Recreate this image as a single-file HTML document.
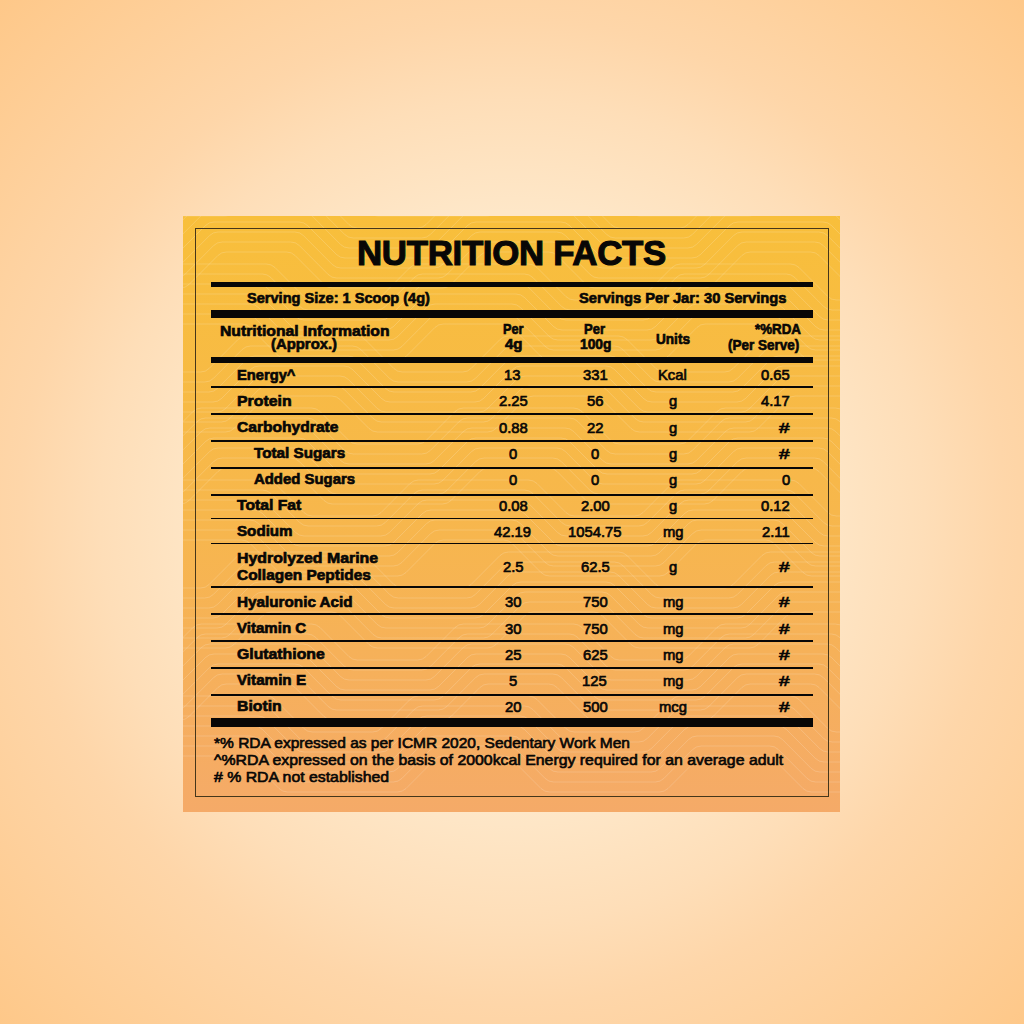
<!DOCTYPE html>
<html><head><meta charset="utf-8"><style>
html,body{margin:0;padding:0}
body{width:1024px;height:1024px;position:relative;overflow:hidden;
background:radial-gradient(circle 724px at 50% 50%, rgb(254,240,215) 0px, rgb(254,231,200) 300px, rgb(254,222,184) 412px, rgb(254,214,169) 492px, rgb(254,200,137) 724px);
font-family:"Liberation Sans",sans-serif;color:#080706}
.panel{position:absolute;left:183px;top:216px;width:657px;height:596px;
background:linear-gradient(180deg,#f8bf3b 0%,#f7b74c 50%,#f5aa68 100%);overflow:hidden}
.border{position:absolute;left:194.8px;top:227.6px;width:632px;height:567.4px;border:1.4px solid #45361a}
.t{position:absolute;white-space:pre;line-height:1;transform-origin:0 0;font-weight:bold}
.ln{position:absolute;background:#080706}
svg.pat{position:absolute;left:0;top:0}
.h{-webkit-text-stroke:1.1px #080706}
.b{-webkit-text-stroke:0.65px #080706}
.n{-webkit-text-stroke:0.65px #080706}
.f{-webkit-text-stroke:0.6px #080706}

</style></head><body>
<div class="panel"><svg class="pat" width="657" height="596"><g fill="none" stroke="#fff" stroke-width="1" stroke-opacity="0.17"><path d="M-60.0,-60.0 L17.6,-60.0 Q22.6,-60.0 26.1,-63.5 L55.0,-92.5 Q58.6,-96.0 63.6,-96.0 L173.4,-96.0 Q178.4,-96.0 182.0,-92.5 L210.9,-63.5 Q214.4,-60.0 219.4,-60.0 L279.6,-60.0 Q284.6,-60.0 288.1,-63.5 L317.0,-92.5 Q320.6,-96.0 325.6,-96.0 L435.4,-96.0 Q440.4,-96.0 444.0,-92.5 L472.9,-63.5 Q476.4,-60.0 481.4,-60.0 L541.6,-60.0 Q546.6,-60.0 550.1,-63.5 L579.0,-92.5 Q582.6,-96.0 587.6,-96.0 L697.4,-96.0 Q702.4,-96.0 706.0,-92.5 L734.9,-63.5 Q738.4,-60.0 743.4,-60.0 L803.6,-60.0 Q808.6,-60.0 812.1,-63.5 L841.0,-92.5 Q844.6,-96.0 849.6,-96.0 L959.4,-96.0 Q964.4,-96.0 968.0,-92.5 L996.9,-63.5 Q1000.4,-60.0 1005.4,-60.0 L1083.0,-60.0"/><path d="M-60.0,-50.0 L21.7,-50.0 Q26.7,-50.0 30.3,-53.5 L59.2,-82.5 Q62.7,-86.0 67.7,-86.0 L169.3,-86.0 Q174.3,-86.0 177.8,-82.5 L206.7,-53.5 Q210.3,-50.0 215.3,-50.0 L283.7,-50.0 Q288.7,-50.0 292.3,-53.5 L321.2,-82.5 Q324.7,-86.0 329.7,-86.0 L431.3,-86.0 Q436.3,-86.0 439.8,-82.5 L468.7,-53.5 Q472.3,-50.0 477.3,-50.0 L545.7,-50.0 Q550.7,-50.0 554.3,-53.5 L583.2,-82.5 Q586.7,-86.0 591.7,-86.0 L693.3,-86.0 Q698.3,-86.0 701.8,-82.5 L730.7,-53.5 Q734.3,-50.0 739.3,-50.0 L807.7,-50.0 Q812.7,-50.0 816.3,-53.5 L845.2,-82.5 Q848.7,-86.0 853.7,-86.0 L955.3,-86.0 Q960.3,-86.0 963.8,-82.5 L992.7,-53.5 Q996.3,-50.0 1001.3,-50.0 L1083.0,-50.0"/><path d="M-60.0,-40.0 L25.9,-40.0 Q30.9,-40.0 34.4,-43.5 L63.3,-72.5 Q66.9,-76.0 71.9,-76.0 L165.1,-76.0 Q170.1,-76.0 173.7,-72.5 L202.6,-43.5 Q206.1,-40.0 211.1,-40.0 L287.9,-40.0 Q292.9,-40.0 296.4,-43.5 L325.3,-72.5 Q328.9,-76.0 333.9,-76.0 L427.1,-76.0 Q432.1,-76.0 435.7,-72.5 L464.6,-43.5 Q468.1,-40.0 473.1,-40.0 L549.9,-40.0 Q554.9,-40.0 558.4,-43.5 L587.3,-72.5 Q590.9,-76.0 595.9,-76.0 L689.1,-76.0 Q694.1,-76.0 697.7,-72.5 L726.6,-43.5 Q730.1,-40.0 735.1,-40.0 L811.9,-40.0 Q816.9,-40.0 820.4,-43.5 L849.3,-72.5 Q852.9,-76.0 857.9,-76.0 L951.1,-76.0 Q956.1,-76.0 959.7,-72.5 L988.6,-43.5 Q992.1,-40.0 997.1,-40.0 L1083.0,-40.0"/><path d="M-60.0,-30.0 L30.0,-30.0 Q35.0,-30.0 38.5,-33.5 L67.5,-62.5 Q71.0,-66.0 76.0,-66.0 L161.0,-66.0 Q166.0,-66.0 169.5,-62.5 L198.5,-33.5 Q202.0,-30.0 207.0,-30.0 L292.0,-30.0 Q297.0,-30.0 300.5,-33.5 L329.5,-62.5 Q333.0,-66.0 338.0,-66.0 L423.0,-66.0 Q428.0,-66.0 431.5,-62.5 L460.5,-33.5 Q464.0,-30.0 469.0,-30.0 L554.0,-30.0 Q559.0,-30.0 562.5,-33.5 L591.5,-62.5 Q595.0,-66.0 600.0,-66.0 L685.0,-66.0 Q690.0,-66.0 693.5,-62.5 L722.5,-33.5 Q726.0,-30.0 731.0,-30.0 L816.0,-30.0 Q821.0,-30.0 824.5,-33.5 L853.5,-62.5 Q857.0,-66.0 862.0,-66.0 L947.0,-66.0 Q952.0,-66.0 955.5,-62.5 L984.5,-33.5 Q988.0,-30.0 993.0,-30.0 L1083.0,-30.0"/><path d="M-60.0,-20.0 L34.1,-20.0 Q39.1,-20.0 42.7,-23.5 L71.6,-52.5 Q75.1,-56.0 80.1,-56.0 L156.9,-56.0 Q161.9,-56.0 165.4,-52.5 L194.3,-23.5 Q197.9,-20.0 202.9,-20.0 L296.1,-20.0 Q301.1,-20.0 304.7,-23.5 L333.6,-52.5 Q337.1,-56.0 342.1,-56.0 L418.9,-56.0 Q423.9,-56.0 427.4,-52.5 L456.3,-23.5 Q459.9,-20.0 464.9,-20.0 L558.1,-20.0 Q563.1,-20.0 566.7,-23.5 L595.6,-52.5 Q599.1,-56.0 604.1,-56.0 L680.9,-56.0 Q685.9,-56.0 689.4,-52.5 L718.3,-23.5 Q721.9,-20.0 726.9,-20.0 L820.1,-20.0 Q825.1,-20.0 828.7,-23.5 L857.6,-52.5 Q861.1,-56.0 866.1,-56.0 L942.9,-56.0 Q947.9,-56.0 951.4,-52.5 L980.3,-23.5 Q983.9,-20.0 988.9,-20.0 L1083.0,-20.0"/><path d="M-60.0,-10.0 L38.3,-10.0 Q43.3,-10.0 46.8,-13.5 L75.7,-42.5 Q79.3,-46.0 84.3,-46.0 L152.7,-46.0 Q157.7,-46.0 161.3,-42.5 L190.2,-13.5 Q193.7,-10.0 198.7,-10.0 L300.3,-10.0 Q305.3,-10.0 308.8,-13.5 L337.7,-42.5 Q341.3,-46.0 346.3,-46.0 L414.7,-46.0 Q419.7,-46.0 423.3,-42.5 L452.2,-13.5 Q455.7,-10.0 460.7,-10.0 L562.3,-10.0 Q567.3,-10.0 570.8,-13.5 L599.7,-42.5 Q603.3,-46.0 608.3,-46.0 L676.7,-46.0 Q681.7,-46.0 685.3,-42.5 L714.2,-13.5 Q717.7,-10.0 722.7,-10.0 L824.3,-10.0 Q829.3,-10.0 832.8,-13.5 L861.7,-42.5 Q865.3,-46.0 870.3,-46.0 L938.7,-46.0 Q943.7,-46.0 947.3,-42.5 L976.2,-13.5 Q979.7,-10.0 984.7,-10.0 L1083.0,-10.0"/><path d="M-60.0,0.0 L42.4,0.0 Q47.4,0.0 51.0,-3.5 L79.9,-32.5 Q83.4,-36.0 88.4,-36.0 L148.6,-36.0 Q153.6,-36.0 157.1,-32.5 L186.0,-3.5 Q189.6,0.0 194.6,0.0 L304.4,0.0 Q309.4,0.0 313.0,-3.5 L341.9,-32.5 Q345.4,-36.0 350.4,-36.0 L410.6,-36.0 Q415.6,-36.0 419.1,-32.5 L448.0,-3.5 Q451.6,0.0 456.6,0.0 L566.4,0.0 Q571.4,0.0 575.0,-3.5 L603.9,-32.5 Q607.4,-36.0 612.4,-36.0 L672.6,-36.0 Q677.6,-36.0 681.1,-32.5 L710.0,-3.5 Q713.6,0.0 718.6,0.0 L828.4,0.0 Q833.4,0.0 837.0,-3.5 L865.9,-32.5 Q869.4,-36.0 874.4,-36.0 L934.6,-36.0 Q939.6,-36.0 943.1,-32.5 L972.0,-3.5 Q975.6,0.0 980.6,0.0 L1083.0,0.0"/><path d="M-105.0,12.0 L-27.4,12.0 Q-22.4,12.0 -18.9,8.5 L10.0,-20.5 Q13.6,-24.0 18.6,-24.0 L128.4,-24.0 Q133.4,-24.0 137.0,-20.5 L165.9,8.5 Q169.4,12.0 174.4,12.0 L234.6,12.0 Q239.6,12.0 243.1,8.5 L272.0,-20.5 Q275.6,-24.0 280.6,-24.0 L390.4,-24.0 Q395.4,-24.0 399.0,-20.5 L427.9,8.5 Q431.4,12.0 436.4,12.0 L496.6,12.0 Q501.6,12.0 505.1,8.5 L534.0,-20.5 Q537.6,-24.0 542.6,-24.0 L652.4,-24.0 Q657.4,-24.0 661.0,-20.5 L689.9,8.5 Q693.4,12.0 698.4,12.0 L758.6,12.0 Q763.6,12.0 767.1,8.5 L796.0,-20.5 Q799.6,-24.0 804.6,-24.0 L914.4,-24.0 Q919.4,-24.0 923.0,-20.5 L951.9,8.5 Q955.4,12.0 960.4,12.0 L1038.0,12.0"/><path d="M-105.0,22.0 L-23.3,22.0 Q-18.3,22.0 -14.7,18.5 L14.2,-10.5 Q17.7,-14.0 22.7,-14.0 L124.3,-14.0 Q129.3,-14.0 132.8,-10.5 L161.7,18.5 Q165.3,22.0 170.3,22.0 L238.7,22.0 Q243.7,22.0 247.3,18.5 L276.2,-10.5 Q279.7,-14.0 284.7,-14.0 L386.3,-14.0 Q391.3,-14.0 394.8,-10.5 L423.7,18.5 Q427.3,22.0 432.3,22.0 L500.7,22.0 Q505.7,22.0 509.3,18.5 L538.2,-10.5 Q541.7,-14.0 546.7,-14.0 L648.3,-14.0 Q653.3,-14.0 656.8,-10.5 L685.7,18.5 Q689.3,22.0 694.3,22.0 L762.7,22.0 Q767.7,22.0 771.3,18.5 L800.2,-10.5 Q803.7,-14.0 808.7,-14.0 L910.3,-14.0 Q915.3,-14.0 918.8,-10.5 L947.7,18.5 Q951.3,22.0 956.3,22.0 L1038.0,22.0"/><path d="M-105.0,32.0 L-19.1,32.0 Q-14.1,32.0 -10.6,28.5 L18.3,-0.5 Q21.9,-4.0 26.9,-4.0 L120.1,-4.0 Q125.1,-4.0 128.7,-0.5 L157.6,28.5 Q161.1,32.0 166.1,32.0 L242.9,32.0 Q247.9,32.0 251.4,28.5 L280.3,-0.5 Q283.9,-4.0 288.9,-4.0 L382.1,-4.0 Q387.1,-4.0 390.7,-0.5 L419.6,28.5 Q423.1,32.0 428.1,32.0 L504.9,32.0 Q509.9,32.0 513.4,28.5 L542.3,-0.5 Q545.9,-4.0 550.9,-4.0 L644.1,-4.0 Q649.1,-4.0 652.7,-0.5 L681.6,28.5 Q685.1,32.0 690.1,32.0 L766.9,32.0 Q771.9,32.0 775.4,28.5 L804.3,-0.5 Q807.9,-4.0 812.9,-4.0 L906.1,-4.0 Q911.1,-4.0 914.7,-0.5 L943.6,28.5 Q947.1,32.0 952.1,32.0 L1038.0,32.0"/><path d="M-105.0,42.0 L-15.0,42.0 Q-10.0,42.0 -6.5,38.5 L22.5,9.5 Q26.0,6.0 31.0,6.0 L116.0,6.0 Q121.0,6.0 124.5,9.5 L153.5,38.5 Q157.0,42.0 162.0,42.0 L247.0,42.0 Q252.0,42.0 255.5,38.5 L284.5,9.5 Q288.0,6.0 293.0,6.0 L378.0,6.0 Q383.0,6.0 386.5,9.5 L415.5,38.5 Q419.0,42.0 424.0,42.0 L509.0,42.0 Q514.0,42.0 517.5,38.5 L546.5,9.5 Q550.0,6.0 555.0,6.0 L640.0,6.0 Q645.0,6.0 648.5,9.5 L677.5,38.5 Q681.0,42.0 686.0,42.0 L771.0,42.0 Q776.0,42.0 779.5,38.5 L808.5,9.5 Q812.0,6.0 817.0,6.0 L902.0,6.0 Q907.0,6.0 910.5,9.5 L939.5,38.5 Q943.0,42.0 948.0,42.0 L1038.0,42.0"/><path d="M-105.0,52.0 L-10.9,52.0 Q-5.9,52.0 -2.3,48.5 L26.6,19.5 Q30.1,16.0 35.1,16.0 L111.9,16.0 Q116.9,16.0 120.4,19.5 L149.3,48.5 Q152.9,52.0 157.9,52.0 L251.1,52.0 Q256.1,52.0 259.7,48.5 L288.6,19.5 Q292.1,16.0 297.1,16.0 L373.9,16.0 Q378.9,16.0 382.4,19.5 L411.3,48.5 Q414.9,52.0 419.9,52.0 L513.1,52.0 Q518.1,52.0 521.7,48.5 L550.6,19.5 Q554.1,16.0 559.1,16.0 L635.9,16.0 Q640.9,16.0 644.4,19.5 L673.3,48.5 Q676.9,52.0 681.9,52.0 L775.1,52.0 Q780.1,52.0 783.7,48.5 L812.6,19.5 Q816.1,16.0 821.1,16.0 L897.9,16.0 Q902.9,16.0 906.4,19.5 L935.3,48.5 Q938.9,52.0 943.9,52.0 L1038.0,52.0"/><path d="M-105.0,62.0 L-6.7,62.0 Q-1.7,62.0 1.8,58.5 L30.7,29.5 Q34.3,26.0 39.3,26.0 L107.7,26.0 Q112.7,26.0 116.3,29.5 L145.2,58.5 Q148.7,62.0 153.7,62.0 L255.3,62.0 Q260.3,62.0 263.8,58.5 L292.7,29.5 Q296.3,26.0 301.3,26.0 L369.7,26.0 Q374.7,26.0 378.3,29.5 L407.2,58.5 Q410.7,62.0 415.7,62.0 L517.3,62.0 Q522.3,62.0 525.8,58.5 L554.7,29.5 Q558.3,26.0 563.3,26.0 L631.7,26.0 Q636.7,26.0 640.3,29.5 L669.2,58.5 Q672.7,62.0 677.7,62.0 L779.3,62.0 Q784.3,62.0 787.8,58.5 L816.7,29.5 Q820.3,26.0 825.3,26.0 L893.7,26.0 Q898.7,26.0 902.3,29.5 L931.2,58.5 Q934.7,62.0 939.7,62.0 L1038.0,62.0"/><path d="M-105.0,72.0 L-2.6,72.0 Q2.4,72.0 6.0,68.5 L34.9,39.5 Q38.4,36.0 43.4,36.0 L103.6,36.0 Q108.6,36.0 112.1,39.5 L141.0,68.5 Q144.6,72.0 149.6,72.0 L259.4,72.0 Q264.4,72.0 268.0,68.5 L296.9,39.5 Q300.4,36.0 305.4,36.0 L365.6,36.0 Q370.6,36.0 374.1,39.5 L403.0,68.5 Q406.6,72.0 411.6,72.0 L521.4,72.0 Q526.4,72.0 530.0,68.5 L558.9,39.5 Q562.4,36.0 567.4,36.0 L627.6,36.0 Q632.6,36.0 636.1,39.5 L665.0,68.5 Q668.6,72.0 673.6,72.0 L783.4,72.0 Q788.4,72.0 792.0,68.5 L820.9,39.5 Q824.4,36.0 829.4,36.0 L889.6,36.0 Q894.6,36.0 898.1,39.5 L927.0,68.5 Q930.6,72.0 935.6,72.0 L1038.0,72.0"/><path d="M-150.0,84.0 L-72.4,84.0 Q-67.4,84.0 -63.9,80.5 L-35.0,51.5 Q-31.4,48.0 -26.4,48.0 L83.4,48.0 Q88.4,48.0 92.0,51.5 L120.9,80.5 Q124.4,84.0 129.4,84.0 L189.6,84.0 Q194.6,84.0 198.1,80.5 L227.0,51.5 Q230.6,48.0 235.6,48.0 L345.4,48.0 Q350.4,48.0 354.0,51.5 L382.9,80.5 Q386.4,84.0 391.4,84.0 L451.6,84.0 Q456.6,84.0 460.1,80.5 L489.0,51.5 Q492.6,48.0 497.6,48.0 L607.4,48.0 Q612.4,48.0 616.0,51.5 L644.9,80.5 Q648.4,84.0 653.4,84.0 L713.6,84.0 Q718.6,84.0 722.1,80.5 L751.0,51.5 Q754.6,48.0 759.6,48.0 L869.4,48.0 Q874.4,48.0 878.0,51.5 L906.9,80.5 Q910.4,84.0 915.4,84.0 L993.0,84.0"/><path d="M-150.0,94.0 L-68.3,94.0 Q-63.3,94.0 -59.7,90.5 L-30.8,61.5 Q-27.3,58.0 -22.3,58.0 L79.3,58.0 Q84.3,58.0 87.8,61.5 L116.7,90.5 Q120.3,94.0 125.3,94.0 L193.7,94.0 Q198.7,94.0 202.3,90.5 L231.2,61.5 Q234.7,58.0 239.7,58.0 L341.3,58.0 Q346.3,58.0 349.8,61.5 L378.7,90.5 Q382.3,94.0 387.3,94.0 L455.7,94.0 Q460.7,94.0 464.3,90.5 L493.2,61.5 Q496.7,58.0 501.7,58.0 L603.3,58.0 Q608.3,58.0 611.8,61.5 L640.7,90.5 Q644.3,94.0 649.3,94.0 L717.7,94.0 Q722.7,94.0 726.3,90.5 L755.2,61.5 Q758.7,58.0 763.7,58.0 L865.3,58.0 Q870.3,58.0 873.8,61.5 L902.7,90.5 Q906.3,94.0 911.3,94.0 L993.0,94.0"/><path d="M-150.0,104.0 L-64.1,104.0 Q-59.1,104.0 -55.6,100.5 L-26.7,71.5 Q-23.1,68.0 -18.1,68.0 L75.1,68.0 Q80.1,68.0 83.7,71.5 L112.6,100.5 Q116.1,104.0 121.1,104.0 L197.9,104.0 Q202.9,104.0 206.4,100.5 L235.3,71.5 Q238.9,68.0 243.9,68.0 L337.1,68.0 Q342.1,68.0 345.7,71.5 L374.6,100.5 Q378.1,104.0 383.1,104.0 L459.9,104.0 Q464.9,104.0 468.4,100.5 L497.3,71.5 Q500.9,68.0 505.9,68.0 L599.1,68.0 Q604.1,68.0 607.7,71.5 L636.6,100.5 Q640.1,104.0 645.1,104.0 L721.9,104.0 Q726.9,104.0 730.4,100.5 L759.3,71.5 Q762.9,68.0 767.9,68.0 L861.1,68.0 Q866.1,68.0 869.7,71.5 L898.6,100.5 Q902.1,104.0 907.1,104.0 L993.0,104.0"/><path d="M-150.0,114.0 L-60.0,114.0 Q-55.0,114.0 -51.5,110.5 L-22.5,81.5 Q-19.0,78.0 -14.0,78.0 L71.0,78.0 Q76.0,78.0 79.5,81.5 L108.5,110.5 Q112.0,114.0 117.0,114.0 L202.0,114.0 Q207.0,114.0 210.5,110.5 L239.5,81.5 Q243.0,78.0 248.0,78.0 L333.0,78.0 Q338.0,78.0 341.5,81.5 L370.5,110.5 Q374.0,114.0 379.0,114.0 L464.0,114.0 Q469.0,114.0 472.5,110.5 L501.5,81.5 Q505.0,78.0 510.0,78.0 L595.0,78.0 Q600.0,78.0 603.5,81.5 L632.5,110.5 Q636.0,114.0 641.0,114.0 L726.0,114.0 Q731.0,114.0 734.5,110.5 L763.5,81.5 Q767.0,78.0 772.0,78.0 L857.0,78.0 Q862.0,78.0 865.5,81.5 L894.5,110.5 Q898.0,114.0 903.0,114.0 L993.0,114.0"/><path d="M-150.0,124.0 L-55.9,124.0 Q-50.9,124.0 -47.3,120.5 L-18.4,91.5 Q-14.9,88.0 -9.9,88.0 L66.9,88.0 Q71.9,88.0 75.4,91.5 L104.3,120.5 Q107.9,124.0 112.9,124.0 L206.1,124.0 Q211.1,124.0 214.7,120.5 L243.6,91.5 Q247.1,88.0 252.1,88.0 L328.9,88.0 Q333.9,88.0 337.4,91.5 L366.3,120.5 Q369.9,124.0 374.9,124.0 L468.1,124.0 Q473.1,124.0 476.7,120.5 L505.6,91.5 Q509.1,88.0 514.1,88.0 L590.9,88.0 Q595.9,88.0 599.4,91.5 L628.3,120.5 Q631.9,124.0 636.9,124.0 L730.1,124.0 Q735.1,124.0 738.7,120.5 L767.6,91.5 Q771.1,88.0 776.1,88.0 L852.9,88.0 Q857.9,88.0 861.4,91.5 L890.3,120.5 Q893.9,124.0 898.9,124.0 L993.0,124.0"/><path d="M-150.0,134.0 L-51.7,134.0 Q-46.7,134.0 -43.2,130.5 L-14.3,101.5 Q-10.7,98.0 -5.7,98.0 L62.7,98.0 Q67.7,98.0 71.3,101.5 L100.2,130.5 Q103.7,134.0 108.7,134.0 L210.3,134.0 Q215.3,134.0 218.8,130.5 L247.7,101.5 Q251.3,98.0 256.3,98.0 L324.7,98.0 Q329.7,98.0 333.3,101.5 L362.2,130.5 Q365.7,134.0 370.7,134.0 L472.3,134.0 Q477.3,134.0 480.8,130.5 L509.7,101.5 Q513.3,98.0 518.3,98.0 L586.7,98.0 Q591.7,98.0 595.3,101.5 L624.2,130.5 Q627.7,134.0 632.7,134.0 L734.3,134.0 Q739.3,134.0 742.8,130.5 L771.7,101.5 Q775.3,98.0 780.3,98.0 L848.7,98.0 Q853.7,98.0 857.3,101.5 L886.2,130.5 Q889.7,134.0 894.7,134.0 L993.0,134.0"/><path d="M-150.0,144.0 L-47.6,144.0 Q-42.6,144.0 -39.0,140.5 L-10.1,111.5 Q-6.6,108.0 -1.6,108.0 L58.6,108.0 Q63.6,108.0 67.1,111.5 L96.0,140.5 Q99.6,144.0 104.6,144.0 L214.4,144.0 Q219.4,144.0 223.0,140.5 L251.9,111.5 Q255.4,108.0 260.4,108.0 L320.6,108.0 Q325.6,108.0 329.1,111.5 L358.0,140.5 Q361.6,144.0 366.6,144.0 L476.4,144.0 Q481.4,144.0 485.0,140.5 L513.9,111.5 Q517.4,108.0 522.4,108.0 L582.6,108.0 Q587.6,108.0 591.1,111.5 L620.0,140.5 Q623.6,144.0 628.6,144.0 L738.4,144.0 Q743.4,144.0 747.0,140.5 L775.9,111.5 Q779.4,108.0 784.4,108.0 L844.6,108.0 Q849.6,108.0 853.1,111.5 L882.0,140.5 Q885.6,144.0 890.6,144.0 L993.0,144.0"/><path d="M-60.0,156.0 L17.6,156.0 Q22.6,156.0 26.1,152.5 L55.0,123.5 Q58.6,120.0 63.6,120.0 L173.4,120.0 Q178.4,120.0 182.0,123.5 L210.9,152.5 Q214.4,156.0 219.4,156.0 L279.6,156.0 Q284.6,156.0 288.1,152.5 L317.0,123.5 Q320.6,120.0 325.6,120.0 L435.4,120.0 Q440.4,120.0 444.0,123.5 L472.9,152.5 Q476.4,156.0 481.4,156.0 L541.6,156.0 Q546.6,156.0 550.1,152.5 L579.0,123.5 Q582.6,120.0 587.6,120.0 L697.4,120.0 Q702.4,120.0 706.0,123.5 L734.9,152.5 Q738.4,156.0 743.4,156.0 L803.6,156.0 Q808.6,156.0 812.1,152.5 L841.0,123.5 Q844.6,120.0 849.6,120.0 L959.4,120.0 Q964.4,120.0 968.0,123.5 L996.9,152.5 Q1000.4,156.0 1005.4,156.0 L1083.0,156.0"/><path d="M-60.0,166.0 L21.7,166.0 Q26.7,166.0 30.3,162.5 L59.2,133.5 Q62.7,130.0 67.7,130.0 L169.3,130.0 Q174.3,130.0 177.8,133.5 L206.7,162.5 Q210.3,166.0 215.3,166.0 L283.7,166.0 Q288.7,166.0 292.3,162.5 L321.2,133.5 Q324.7,130.0 329.7,130.0 L431.3,130.0 Q436.3,130.0 439.8,133.5 L468.7,162.5 Q472.3,166.0 477.3,166.0 L545.7,166.0 Q550.7,166.0 554.3,162.5 L583.2,133.5 Q586.7,130.0 591.7,130.0 L693.3,130.0 Q698.3,130.0 701.8,133.5 L730.7,162.5 Q734.3,166.0 739.3,166.0 L807.7,166.0 Q812.7,166.0 816.3,162.5 L845.2,133.5 Q848.7,130.0 853.7,130.0 L955.3,130.0 Q960.3,130.0 963.8,133.5 L992.7,162.5 Q996.3,166.0 1001.3,166.0 L1083.0,166.0"/><path d="M-60.0,176.0 L25.9,176.0 Q30.9,176.0 34.4,172.5 L63.3,143.5 Q66.9,140.0 71.9,140.0 L165.1,140.0 Q170.1,140.0 173.7,143.5 L202.6,172.5 Q206.1,176.0 211.1,176.0 L287.9,176.0 Q292.9,176.0 296.4,172.5 L325.3,143.5 Q328.9,140.0 333.9,140.0 L427.1,140.0 Q432.1,140.0 435.7,143.5 L464.6,172.5 Q468.1,176.0 473.1,176.0 L549.9,176.0 Q554.9,176.0 558.4,172.5 L587.3,143.5 Q590.9,140.0 595.9,140.0 L689.1,140.0 Q694.1,140.0 697.7,143.5 L726.6,172.5 Q730.1,176.0 735.1,176.0 L811.9,176.0 Q816.9,176.0 820.4,172.5 L849.3,143.5 Q852.9,140.0 857.9,140.0 L951.1,140.0 Q956.1,140.0 959.7,143.5 L988.6,172.5 Q992.1,176.0 997.1,176.0 L1083.0,176.0"/><path d="M-60.0,186.0 L30.0,186.0 Q35.0,186.0 38.5,182.5 L67.5,153.5 Q71.0,150.0 76.0,150.0 L161.0,150.0 Q166.0,150.0 169.5,153.5 L198.5,182.5 Q202.0,186.0 207.0,186.0 L292.0,186.0 Q297.0,186.0 300.5,182.5 L329.5,153.5 Q333.0,150.0 338.0,150.0 L423.0,150.0 Q428.0,150.0 431.5,153.5 L460.5,182.5 Q464.0,186.0 469.0,186.0 L554.0,186.0 Q559.0,186.0 562.5,182.5 L591.5,153.5 Q595.0,150.0 600.0,150.0 L685.0,150.0 Q690.0,150.0 693.5,153.5 L722.5,182.5 Q726.0,186.0 731.0,186.0 L816.0,186.0 Q821.0,186.0 824.5,182.5 L853.5,153.5 Q857.0,150.0 862.0,150.0 L947.0,150.0 Q952.0,150.0 955.5,153.5 L984.5,182.5 Q988.0,186.0 993.0,186.0 L1083.0,186.0"/><path d="M-60.0,196.0 L34.1,196.0 Q39.1,196.0 42.7,192.5 L71.6,163.5 Q75.1,160.0 80.1,160.0 L156.9,160.0 Q161.9,160.0 165.4,163.5 L194.3,192.5 Q197.9,196.0 202.9,196.0 L296.1,196.0 Q301.1,196.0 304.7,192.5 L333.6,163.5 Q337.1,160.0 342.1,160.0 L418.9,160.0 Q423.9,160.0 427.4,163.5 L456.3,192.5 Q459.9,196.0 464.9,196.0 L558.1,196.0 Q563.1,196.0 566.7,192.5 L595.6,163.5 Q599.1,160.0 604.1,160.0 L680.9,160.0 Q685.9,160.0 689.4,163.5 L718.3,192.5 Q721.9,196.0 726.9,196.0 L820.1,196.0 Q825.1,196.0 828.7,192.5 L857.6,163.5 Q861.1,160.0 866.1,160.0 L942.9,160.0 Q947.9,160.0 951.4,163.5 L980.3,192.5 Q983.9,196.0 988.9,196.0 L1083.0,196.0"/><path d="M-60.0,206.0 L38.3,206.0 Q43.3,206.0 46.8,202.5 L75.7,173.5 Q79.3,170.0 84.3,170.0 L152.7,170.0 Q157.7,170.0 161.3,173.5 L190.2,202.5 Q193.7,206.0 198.7,206.0 L300.3,206.0 Q305.3,206.0 308.8,202.5 L337.7,173.5 Q341.3,170.0 346.3,170.0 L414.7,170.0 Q419.7,170.0 423.3,173.5 L452.2,202.5 Q455.7,206.0 460.7,206.0 L562.3,206.0 Q567.3,206.0 570.8,202.5 L599.7,173.5 Q603.3,170.0 608.3,170.0 L676.7,170.0 Q681.7,170.0 685.3,173.5 L714.2,202.5 Q717.7,206.0 722.7,206.0 L824.3,206.0 Q829.3,206.0 832.8,202.5 L861.7,173.5 Q865.3,170.0 870.3,170.0 L938.7,170.0 Q943.7,170.0 947.3,173.5 L976.2,202.5 Q979.7,206.0 984.7,206.0 L1083.0,206.0"/><path d="M-60.0,216.0 L42.4,216.0 Q47.4,216.0 51.0,212.5 L79.9,183.5 Q83.4,180.0 88.4,180.0 L148.6,180.0 Q153.6,180.0 157.1,183.5 L186.0,212.5 Q189.6,216.0 194.6,216.0 L304.4,216.0 Q309.4,216.0 313.0,212.5 L341.9,183.5 Q345.4,180.0 350.4,180.0 L410.6,180.0 Q415.6,180.0 419.1,183.5 L448.0,212.5 Q451.6,216.0 456.6,216.0 L566.4,216.0 Q571.4,216.0 575.0,212.5 L603.9,183.5 Q607.4,180.0 612.4,180.0 L672.6,180.0 Q677.6,180.0 681.1,183.5 L710.0,212.5 Q713.6,216.0 718.6,216.0 L828.4,216.0 Q833.4,216.0 837.0,212.5 L865.9,183.5 Q869.4,180.0 874.4,180.0 L934.6,180.0 Q939.6,180.0 943.1,183.5 L972.0,212.5 Q975.6,216.0 980.6,216.0 L1083.0,216.0"/><path d="M-105.0,228.0 L-27.4,228.0 Q-22.4,228.0 -18.9,224.5 L10.0,195.5 Q13.6,192.0 18.6,192.0 L128.4,192.0 Q133.4,192.0 137.0,195.5 L165.9,224.5 Q169.4,228.0 174.4,228.0 L234.6,228.0 Q239.6,228.0 243.1,224.5 L272.0,195.5 Q275.6,192.0 280.6,192.0 L390.4,192.0 Q395.4,192.0 399.0,195.5 L427.9,224.5 Q431.4,228.0 436.4,228.0 L496.6,228.0 Q501.6,228.0 505.1,224.5 L534.0,195.5 Q537.6,192.0 542.6,192.0 L652.4,192.0 Q657.4,192.0 661.0,195.5 L689.9,224.5 Q693.4,228.0 698.4,228.0 L758.6,228.0 Q763.6,228.0 767.1,224.5 L796.0,195.5 Q799.6,192.0 804.6,192.0 L914.4,192.0 Q919.4,192.0 923.0,195.5 L951.9,224.5 Q955.4,228.0 960.4,228.0 L1038.0,228.0"/><path d="M-105.0,238.0 L-23.3,238.0 Q-18.3,238.0 -14.7,234.5 L14.2,205.5 Q17.7,202.0 22.7,202.0 L124.3,202.0 Q129.3,202.0 132.8,205.5 L161.7,234.5 Q165.3,238.0 170.3,238.0 L238.7,238.0 Q243.7,238.0 247.3,234.5 L276.2,205.5 Q279.7,202.0 284.7,202.0 L386.3,202.0 Q391.3,202.0 394.8,205.5 L423.7,234.5 Q427.3,238.0 432.3,238.0 L500.7,238.0 Q505.7,238.0 509.3,234.5 L538.2,205.5 Q541.7,202.0 546.7,202.0 L648.3,202.0 Q653.3,202.0 656.8,205.5 L685.7,234.5 Q689.3,238.0 694.3,238.0 L762.7,238.0 Q767.7,238.0 771.3,234.5 L800.2,205.5 Q803.7,202.0 808.7,202.0 L910.3,202.0 Q915.3,202.0 918.8,205.5 L947.7,234.5 Q951.3,238.0 956.3,238.0 L1038.0,238.0"/><path d="M-105.0,248.0 L-19.1,248.0 Q-14.1,248.0 -10.6,244.5 L18.3,215.5 Q21.9,212.0 26.9,212.0 L120.1,212.0 Q125.1,212.0 128.7,215.5 L157.6,244.5 Q161.1,248.0 166.1,248.0 L242.9,248.0 Q247.9,248.0 251.4,244.5 L280.3,215.5 Q283.9,212.0 288.9,212.0 L382.1,212.0 Q387.1,212.0 390.7,215.5 L419.6,244.5 Q423.1,248.0 428.1,248.0 L504.9,248.0 Q509.9,248.0 513.4,244.5 L542.3,215.5 Q545.9,212.0 550.9,212.0 L644.1,212.0 Q649.1,212.0 652.7,215.5 L681.6,244.5 Q685.1,248.0 690.1,248.0 L766.9,248.0 Q771.9,248.0 775.4,244.5 L804.3,215.5 Q807.9,212.0 812.9,212.0 L906.1,212.0 Q911.1,212.0 914.7,215.5 L943.6,244.5 Q947.1,248.0 952.1,248.0 L1038.0,248.0"/><path d="M-105.0,258.0 L-15.0,258.0 Q-10.0,258.0 -6.5,254.5 L22.5,225.5 Q26.0,222.0 31.0,222.0 L116.0,222.0 Q121.0,222.0 124.5,225.5 L153.5,254.5 Q157.0,258.0 162.0,258.0 L247.0,258.0 Q252.0,258.0 255.5,254.5 L284.5,225.5 Q288.0,222.0 293.0,222.0 L378.0,222.0 Q383.0,222.0 386.5,225.5 L415.5,254.5 Q419.0,258.0 424.0,258.0 L509.0,258.0 Q514.0,258.0 517.5,254.5 L546.5,225.5 Q550.0,222.0 555.0,222.0 L640.0,222.0 Q645.0,222.0 648.5,225.5 L677.5,254.5 Q681.0,258.0 686.0,258.0 L771.0,258.0 Q776.0,258.0 779.5,254.5 L808.5,225.5 Q812.0,222.0 817.0,222.0 L902.0,222.0 Q907.0,222.0 910.5,225.5 L939.5,254.5 Q943.0,258.0 948.0,258.0 L1038.0,258.0"/><path d="M-105.0,268.0 L-10.9,268.0 Q-5.9,268.0 -2.3,264.5 L26.6,235.5 Q30.1,232.0 35.1,232.0 L111.9,232.0 Q116.9,232.0 120.4,235.5 L149.3,264.5 Q152.9,268.0 157.9,268.0 L251.1,268.0 Q256.1,268.0 259.7,264.5 L288.6,235.5 Q292.1,232.0 297.1,232.0 L373.9,232.0 Q378.9,232.0 382.4,235.5 L411.3,264.5 Q414.9,268.0 419.9,268.0 L513.1,268.0 Q518.1,268.0 521.7,264.5 L550.6,235.5 Q554.1,232.0 559.1,232.0 L635.9,232.0 Q640.9,232.0 644.4,235.5 L673.3,264.5 Q676.9,268.0 681.9,268.0 L775.1,268.0 Q780.1,268.0 783.7,264.5 L812.6,235.5 Q816.1,232.0 821.1,232.0 L897.9,232.0 Q902.9,232.0 906.4,235.5 L935.3,264.5 Q938.9,268.0 943.9,268.0 L1038.0,268.0"/><path d="M-105.0,278.0 L-6.7,278.0 Q-1.7,278.0 1.8,274.5 L30.7,245.5 Q34.3,242.0 39.3,242.0 L107.7,242.0 Q112.7,242.0 116.3,245.5 L145.2,274.5 Q148.7,278.0 153.7,278.0 L255.3,278.0 Q260.3,278.0 263.8,274.5 L292.7,245.5 Q296.3,242.0 301.3,242.0 L369.7,242.0 Q374.7,242.0 378.3,245.5 L407.2,274.5 Q410.7,278.0 415.7,278.0 L517.3,278.0 Q522.3,278.0 525.8,274.5 L554.7,245.5 Q558.3,242.0 563.3,242.0 L631.7,242.0 Q636.7,242.0 640.3,245.5 L669.2,274.5 Q672.7,278.0 677.7,278.0 L779.3,278.0 Q784.3,278.0 787.8,274.5 L816.7,245.5 Q820.3,242.0 825.3,242.0 L893.7,242.0 Q898.7,242.0 902.3,245.5 L931.2,274.5 Q934.7,278.0 939.7,278.0 L1038.0,278.0"/><path d="M-105.0,288.0 L-2.6,288.0 Q2.4,288.0 6.0,284.5 L34.9,255.5 Q38.4,252.0 43.4,252.0 L103.6,252.0 Q108.6,252.0 112.1,255.5 L141.0,284.5 Q144.6,288.0 149.6,288.0 L259.4,288.0 Q264.4,288.0 268.0,284.5 L296.9,255.5 Q300.4,252.0 305.4,252.0 L365.6,252.0 Q370.6,252.0 374.1,255.5 L403.0,284.5 Q406.6,288.0 411.6,288.0 L521.4,288.0 Q526.4,288.0 530.0,284.5 L558.9,255.5 Q562.4,252.0 567.4,252.0 L627.6,252.0 Q632.6,252.0 636.1,255.5 L665.0,284.5 Q668.6,288.0 673.6,288.0 L783.4,288.0 Q788.4,288.0 792.0,284.5 L820.9,255.5 Q824.4,252.0 829.4,252.0 L889.6,252.0 Q894.6,252.0 898.1,255.5 L927.0,284.5 Q930.6,288.0 935.6,288.0 L1038.0,288.0"/><path d="M-150.0,300.0 L-72.4,300.0 Q-67.4,300.0 -63.9,296.5 L-35.0,267.5 Q-31.4,264.0 -26.4,264.0 L83.4,264.0 Q88.4,264.0 92.0,267.5 L120.9,296.5 Q124.4,300.0 129.4,300.0 L189.6,300.0 Q194.6,300.0 198.1,296.5 L227.0,267.5 Q230.6,264.0 235.6,264.0 L345.4,264.0 Q350.4,264.0 354.0,267.5 L382.9,296.5 Q386.4,300.0 391.4,300.0 L451.6,300.0 Q456.6,300.0 460.1,296.5 L489.0,267.5 Q492.6,264.0 497.6,264.0 L607.4,264.0 Q612.4,264.0 616.0,267.5 L644.9,296.5 Q648.4,300.0 653.4,300.0 L713.6,300.0 Q718.6,300.0 722.1,296.5 L751.0,267.5 Q754.6,264.0 759.6,264.0 L869.4,264.0 Q874.4,264.0 878.0,267.5 L906.9,296.5 Q910.4,300.0 915.4,300.0 L993.0,300.0"/><path d="M-150.0,310.0 L-68.3,310.0 Q-63.3,310.0 -59.7,306.5 L-30.8,277.5 Q-27.3,274.0 -22.3,274.0 L79.3,274.0 Q84.3,274.0 87.8,277.5 L116.7,306.5 Q120.3,310.0 125.3,310.0 L193.7,310.0 Q198.7,310.0 202.3,306.5 L231.2,277.5 Q234.7,274.0 239.7,274.0 L341.3,274.0 Q346.3,274.0 349.8,277.5 L378.7,306.5 Q382.3,310.0 387.3,310.0 L455.7,310.0 Q460.7,310.0 464.3,306.5 L493.2,277.5 Q496.7,274.0 501.7,274.0 L603.3,274.0 Q608.3,274.0 611.8,277.5 L640.7,306.5 Q644.3,310.0 649.3,310.0 L717.7,310.0 Q722.7,310.0 726.3,306.5 L755.2,277.5 Q758.7,274.0 763.7,274.0 L865.3,274.0 Q870.3,274.0 873.8,277.5 L902.7,306.5 Q906.3,310.0 911.3,310.0 L993.0,310.0"/><path d="M-150.0,320.0 L-64.1,320.0 Q-59.1,320.0 -55.6,316.5 L-26.7,287.5 Q-23.1,284.0 -18.1,284.0 L75.1,284.0 Q80.1,284.0 83.7,287.5 L112.6,316.5 Q116.1,320.0 121.1,320.0 L197.9,320.0 Q202.9,320.0 206.4,316.5 L235.3,287.5 Q238.9,284.0 243.9,284.0 L337.1,284.0 Q342.1,284.0 345.7,287.5 L374.6,316.5 Q378.1,320.0 383.1,320.0 L459.9,320.0 Q464.9,320.0 468.4,316.5 L497.3,287.5 Q500.9,284.0 505.9,284.0 L599.1,284.0 Q604.1,284.0 607.7,287.5 L636.6,316.5 Q640.1,320.0 645.1,320.0 L721.9,320.0 Q726.9,320.0 730.4,316.5 L759.3,287.5 Q762.9,284.0 767.9,284.0 L861.1,284.0 Q866.1,284.0 869.7,287.5 L898.6,316.5 Q902.1,320.0 907.1,320.0 L993.0,320.0"/><path d="M-150.0,330.0 L-60.0,330.0 Q-55.0,330.0 -51.5,326.5 L-22.5,297.5 Q-19.0,294.0 -14.0,294.0 L71.0,294.0 Q76.0,294.0 79.5,297.5 L108.5,326.5 Q112.0,330.0 117.0,330.0 L202.0,330.0 Q207.0,330.0 210.5,326.5 L239.5,297.5 Q243.0,294.0 248.0,294.0 L333.0,294.0 Q338.0,294.0 341.5,297.5 L370.5,326.5 Q374.0,330.0 379.0,330.0 L464.0,330.0 Q469.0,330.0 472.5,326.5 L501.5,297.5 Q505.0,294.0 510.0,294.0 L595.0,294.0 Q600.0,294.0 603.5,297.5 L632.5,326.5 Q636.0,330.0 641.0,330.0 L726.0,330.0 Q731.0,330.0 734.5,326.5 L763.5,297.5 Q767.0,294.0 772.0,294.0 L857.0,294.0 Q862.0,294.0 865.5,297.5 L894.5,326.5 Q898.0,330.0 903.0,330.0 L993.0,330.0"/><path d="M-150.0,340.0 L-55.9,340.0 Q-50.9,340.0 -47.3,336.5 L-18.4,307.5 Q-14.9,304.0 -9.9,304.0 L66.9,304.0 Q71.9,304.0 75.4,307.5 L104.3,336.5 Q107.9,340.0 112.9,340.0 L206.1,340.0 Q211.1,340.0 214.7,336.5 L243.6,307.5 Q247.1,304.0 252.1,304.0 L328.9,304.0 Q333.9,304.0 337.4,307.5 L366.3,336.5 Q369.9,340.0 374.9,340.0 L468.1,340.0 Q473.1,340.0 476.7,336.5 L505.6,307.5 Q509.1,304.0 514.1,304.0 L590.9,304.0 Q595.9,304.0 599.4,307.5 L628.3,336.5 Q631.9,340.0 636.9,340.0 L730.1,340.0 Q735.1,340.0 738.7,336.5 L767.6,307.5 Q771.1,304.0 776.1,304.0 L852.9,304.0 Q857.9,304.0 861.4,307.5 L890.3,336.5 Q893.9,340.0 898.9,340.0 L993.0,340.0"/><path d="M-150.0,350.0 L-51.7,350.0 Q-46.7,350.0 -43.2,346.5 L-14.3,317.5 Q-10.7,314.0 -5.7,314.0 L62.7,314.0 Q67.7,314.0 71.3,317.5 L100.2,346.5 Q103.7,350.0 108.7,350.0 L210.3,350.0 Q215.3,350.0 218.8,346.5 L247.7,317.5 Q251.3,314.0 256.3,314.0 L324.7,314.0 Q329.7,314.0 333.3,317.5 L362.2,346.5 Q365.7,350.0 370.7,350.0 L472.3,350.0 Q477.3,350.0 480.8,346.5 L509.7,317.5 Q513.3,314.0 518.3,314.0 L586.7,314.0 Q591.7,314.0 595.3,317.5 L624.2,346.5 Q627.7,350.0 632.7,350.0 L734.3,350.0 Q739.3,350.0 742.8,346.5 L771.7,317.5 Q775.3,314.0 780.3,314.0 L848.7,314.0 Q853.7,314.0 857.3,317.5 L886.2,346.5 Q889.7,350.0 894.7,350.0 L993.0,350.0"/><path d="M-150.0,360.0 L-47.6,360.0 Q-42.6,360.0 -39.0,356.5 L-10.1,327.5 Q-6.6,324.0 -1.6,324.0 L58.6,324.0 Q63.6,324.0 67.1,327.5 L96.0,356.5 Q99.6,360.0 104.6,360.0 L214.4,360.0 Q219.4,360.0 223.0,356.5 L251.9,327.5 Q255.4,324.0 260.4,324.0 L320.6,324.0 Q325.6,324.0 329.1,327.5 L358.0,356.5 Q361.6,360.0 366.6,360.0 L476.4,360.0 Q481.4,360.0 485.0,356.5 L513.9,327.5 Q517.4,324.0 522.4,324.0 L582.6,324.0 Q587.6,324.0 591.1,327.5 L620.0,356.5 Q623.6,360.0 628.6,360.0 L738.4,360.0 Q743.4,360.0 747.0,356.5 L775.9,327.5 Q779.4,324.0 784.4,324.0 L844.6,324.0 Q849.6,324.0 853.1,327.5 L882.0,356.5 Q885.6,360.0 890.6,360.0 L993.0,360.0"/><path d="M-60.0,372.0 L17.6,372.0 Q22.6,372.0 26.1,368.5 L55.0,339.5 Q58.6,336.0 63.6,336.0 L173.4,336.0 Q178.4,336.0 182.0,339.5 L210.9,368.5 Q214.4,372.0 219.4,372.0 L279.6,372.0 Q284.6,372.0 288.1,368.5 L317.0,339.5 Q320.6,336.0 325.6,336.0 L435.4,336.0 Q440.4,336.0 444.0,339.5 L472.9,368.5 Q476.4,372.0 481.4,372.0 L541.6,372.0 Q546.6,372.0 550.1,368.5 L579.0,339.5 Q582.6,336.0 587.6,336.0 L697.4,336.0 Q702.4,336.0 706.0,339.5 L734.9,368.5 Q738.4,372.0 743.4,372.0 L803.6,372.0 Q808.6,372.0 812.1,368.5 L841.0,339.5 Q844.6,336.0 849.6,336.0 L959.4,336.0 Q964.4,336.0 968.0,339.5 L996.9,368.5 Q1000.4,372.0 1005.4,372.0 L1083.0,372.0"/><path d="M-60.0,382.0 L21.7,382.0 Q26.7,382.0 30.3,378.5 L59.2,349.5 Q62.7,346.0 67.7,346.0 L169.3,346.0 Q174.3,346.0 177.8,349.5 L206.7,378.5 Q210.3,382.0 215.3,382.0 L283.7,382.0 Q288.7,382.0 292.3,378.5 L321.2,349.5 Q324.7,346.0 329.7,346.0 L431.3,346.0 Q436.3,346.0 439.8,349.5 L468.7,378.5 Q472.3,382.0 477.3,382.0 L545.7,382.0 Q550.7,382.0 554.3,378.5 L583.2,349.5 Q586.7,346.0 591.7,346.0 L693.3,346.0 Q698.3,346.0 701.8,349.5 L730.7,378.5 Q734.3,382.0 739.3,382.0 L807.7,382.0 Q812.7,382.0 816.3,378.5 L845.2,349.5 Q848.7,346.0 853.7,346.0 L955.3,346.0 Q960.3,346.0 963.8,349.5 L992.7,378.5 Q996.3,382.0 1001.3,382.0 L1083.0,382.0"/><path d="M-60.0,392.0 L25.9,392.0 Q30.9,392.0 34.4,388.5 L63.3,359.5 Q66.9,356.0 71.9,356.0 L165.1,356.0 Q170.1,356.0 173.7,359.5 L202.6,388.5 Q206.1,392.0 211.1,392.0 L287.9,392.0 Q292.9,392.0 296.4,388.5 L325.3,359.5 Q328.9,356.0 333.9,356.0 L427.1,356.0 Q432.1,356.0 435.7,359.5 L464.6,388.5 Q468.1,392.0 473.1,392.0 L549.9,392.0 Q554.9,392.0 558.4,388.5 L587.3,359.5 Q590.9,356.0 595.9,356.0 L689.1,356.0 Q694.1,356.0 697.7,359.5 L726.6,388.5 Q730.1,392.0 735.1,392.0 L811.9,392.0 Q816.9,392.0 820.4,388.5 L849.3,359.5 Q852.9,356.0 857.9,356.0 L951.1,356.0 Q956.1,356.0 959.7,359.5 L988.6,388.5 Q992.1,392.0 997.1,392.0 L1083.0,392.0"/><path d="M-60.0,402.0 L30.0,402.0 Q35.0,402.0 38.5,398.5 L67.5,369.5 Q71.0,366.0 76.0,366.0 L161.0,366.0 Q166.0,366.0 169.5,369.5 L198.5,398.5 Q202.0,402.0 207.0,402.0 L292.0,402.0 Q297.0,402.0 300.5,398.5 L329.5,369.5 Q333.0,366.0 338.0,366.0 L423.0,366.0 Q428.0,366.0 431.5,369.5 L460.5,398.5 Q464.0,402.0 469.0,402.0 L554.0,402.0 Q559.0,402.0 562.5,398.5 L591.5,369.5 Q595.0,366.0 600.0,366.0 L685.0,366.0 Q690.0,366.0 693.5,369.5 L722.5,398.5 Q726.0,402.0 731.0,402.0 L816.0,402.0 Q821.0,402.0 824.5,398.5 L853.5,369.5 Q857.0,366.0 862.0,366.0 L947.0,366.0 Q952.0,366.0 955.5,369.5 L984.5,398.5 Q988.0,402.0 993.0,402.0 L1083.0,402.0"/><path d="M-60.0,412.0 L34.1,412.0 Q39.1,412.0 42.7,408.5 L71.6,379.5 Q75.1,376.0 80.1,376.0 L156.9,376.0 Q161.9,376.0 165.4,379.5 L194.3,408.5 Q197.9,412.0 202.9,412.0 L296.1,412.0 Q301.1,412.0 304.7,408.5 L333.6,379.5 Q337.1,376.0 342.1,376.0 L418.9,376.0 Q423.9,376.0 427.4,379.5 L456.3,408.5 Q459.9,412.0 464.9,412.0 L558.1,412.0 Q563.1,412.0 566.7,408.5 L595.6,379.5 Q599.1,376.0 604.1,376.0 L680.9,376.0 Q685.9,376.0 689.4,379.5 L718.3,408.5 Q721.9,412.0 726.9,412.0 L820.1,412.0 Q825.1,412.0 828.7,408.5 L857.6,379.5 Q861.1,376.0 866.1,376.0 L942.9,376.0 Q947.9,376.0 951.4,379.5 L980.3,408.5 Q983.9,412.0 988.9,412.0 L1083.0,412.0"/><path d="M-60.0,422.0 L38.3,422.0 Q43.3,422.0 46.8,418.5 L75.7,389.5 Q79.3,386.0 84.3,386.0 L152.7,386.0 Q157.7,386.0 161.3,389.5 L190.2,418.5 Q193.7,422.0 198.7,422.0 L300.3,422.0 Q305.3,422.0 308.8,418.5 L337.7,389.5 Q341.3,386.0 346.3,386.0 L414.7,386.0 Q419.7,386.0 423.3,389.5 L452.2,418.5 Q455.7,422.0 460.7,422.0 L562.3,422.0 Q567.3,422.0 570.8,418.5 L599.7,389.5 Q603.3,386.0 608.3,386.0 L676.7,386.0 Q681.7,386.0 685.3,389.5 L714.2,418.5 Q717.7,422.0 722.7,422.0 L824.3,422.0 Q829.3,422.0 832.8,418.5 L861.7,389.5 Q865.3,386.0 870.3,386.0 L938.7,386.0 Q943.7,386.0 947.3,389.5 L976.2,418.5 Q979.7,422.0 984.7,422.0 L1083.0,422.0"/><path d="M-60.0,432.0 L42.4,432.0 Q47.4,432.0 51.0,428.5 L79.9,399.5 Q83.4,396.0 88.4,396.0 L148.6,396.0 Q153.6,396.0 157.1,399.5 L186.0,428.5 Q189.6,432.0 194.6,432.0 L304.4,432.0 Q309.4,432.0 313.0,428.5 L341.9,399.5 Q345.4,396.0 350.4,396.0 L410.6,396.0 Q415.6,396.0 419.1,399.5 L448.0,428.5 Q451.6,432.0 456.6,432.0 L566.4,432.0 Q571.4,432.0 575.0,428.5 L603.9,399.5 Q607.4,396.0 612.4,396.0 L672.6,396.0 Q677.6,396.0 681.1,399.5 L710.0,428.5 Q713.6,432.0 718.6,432.0 L828.4,432.0 Q833.4,432.0 837.0,428.5 L865.9,399.5 Q869.4,396.0 874.4,396.0 L934.6,396.0 Q939.6,396.0 943.1,399.5 L972.0,428.5 Q975.6,432.0 980.6,432.0 L1083.0,432.0"/><path d="M-105.0,444.0 L-27.4,444.0 Q-22.4,444.0 -18.9,440.5 L10.0,411.5 Q13.6,408.0 18.6,408.0 L128.4,408.0 Q133.4,408.0 137.0,411.5 L165.9,440.5 Q169.4,444.0 174.4,444.0 L234.6,444.0 Q239.6,444.0 243.1,440.5 L272.0,411.5 Q275.6,408.0 280.6,408.0 L390.4,408.0 Q395.4,408.0 399.0,411.5 L427.9,440.5 Q431.4,444.0 436.4,444.0 L496.6,444.0 Q501.6,444.0 505.1,440.5 L534.0,411.5 Q537.6,408.0 542.6,408.0 L652.4,408.0 Q657.4,408.0 661.0,411.5 L689.9,440.5 Q693.4,444.0 698.4,444.0 L758.6,444.0 Q763.6,444.0 767.1,440.5 L796.0,411.5 Q799.6,408.0 804.6,408.0 L914.4,408.0 Q919.4,408.0 923.0,411.5 L951.9,440.5 Q955.4,444.0 960.4,444.0 L1038.0,444.0"/><path d="M-105.0,454.0 L-23.3,454.0 Q-18.3,454.0 -14.7,450.5 L14.2,421.5 Q17.7,418.0 22.7,418.0 L124.3,418.0 Q129.3,418.0 132.8,421.5 L161.7,450.5 Q165.3,454.0 170.3,454.0 L238.7,454.0 Q243.7,454.0 247.3,450.5 L276.2,421.5 Q279.7,418.0 284.7,418.0 L386.3,418.0 Q391.3,418.0 394.8,421.5 L423.7,450.5 Q427.3,454.0 432.3,454.0 L500.7,454.0 Q505.7,454.0 509.3,450.5 L538.2,421.5 Q541.7,418.0 546.7,418.0 L648.3,418.0 Q653.3,418.0 656.8,421.5 L685.7,450.5 Q689.3,454.0 694.3,454.0 L762.7,454.0 Q767.7,454.0 771.3,450.5 L800.2,421.5 Q803.7,418.0 808.7,418.0 L910.3,418.0 Q915.3,418.0 918.8,421.5 L947.7,450.5 Q951.3,454.0 956.3,454.0 L1038.0,454.0"/><path d="M-105.0,464.0 L-19.1,464.0 Q-14.1,464.0 -10.6,460.5 L18.3,431.5 Q21.9,428.0 26.9,428.0 L120.1,428.0 Q125.1,428.0 128.7,431.5 L157.6,460.5 Q161.1,464.0 166.1,464.0 L242.9,464.0 Q247.9,464.0 251.4,460.5 L280.3,431.5 Q283.9,428.0 288.9,428.0 L382.1,428.0 Q387.1,428.0 390.7,431.5 L419.6,460.5 Q423.1,464.0 428.1,464.0 L504.9,464.0 Q509.9,464.0 513.4,460.5 L542.3,431.5 Q545.9,428.0 550.9,428.0 L644.1,428.0 Q649.1,428.0 652.7,431.5 L681.6,460.5 Q685.1,464.0 690.1,464.0 L766.9,464.0 Q771.9,464.0 775.4,460.5 L804.3,431.5 Q807.9,428.0 812.9,428.0 L906.1,428.0 Q911.1,428.0 914.7,431.5 L943.6,460.5 Q947.1,464.0 952.1,464.0 L1038.0,464.0"/><path d="M-105.0,474.0 L-15.0,474.0 Q-10.0,474.0 -6.5,470.5 L22.5,441.5 Q26.0,438.0 31.0,438.0 L116.0,438.0 Q121.0,438.0 124.5,441.5 L153.5,470.5 Q157.0,474.0 162.0,474.0 L247.0,474.0 Q252.0,474.0 255.5,470.5 L284.5,441.5 Q288.0,438.0 293.0,438.0 L378.0,438.0 Q383.0,438.0 386.5,441.5 L415.5,470.5 Q419.0,474.0 424.0,474.0 L509.0,474.0 Q514.0,474.0 517.5,470.5 L546.5,441.5 Q550.0,438.0 555.0,438.0 L640.0,438.0 Q645.0,438.0 648.5,441.5 L677.5,470.5 Q681.0,474.0 686.0,474.0 L771.0,474.0 Q776.0,474.0 779.5,470.5 L808.5,441.5 Q812.0,438.0 817.0,438.0 L902.0,438.0 Q907.0,438.0 910.5,441.5 L939.5,470.5 Q943.0,474.0 948.0,474.0 L1038.0,474.0"/><path d="M-105.0,484.0 L-10.9,484.0 Q-5.9,484.0 -2.3,480.5 L26.6,451.5 Q30.1,448.0 35.1,448.0 L111.9,448.0 Q116.9,448.0 120.4,451.5 L149.3,480.5 Q152.9,484.0 157.9,484.0 L251.1,484.0 Q256.1,484.0 259.7,480.5 L288.6,451.5 Q292.1,448.0 297.1,448.0 L373.9,448.0 Q378.9,448.0 382.4,451.5 L411.3,480.5 Q414.9,484.0 419.9,484.0 L513.1,484.0 Q518.1,484.0 521.7,480.5 L550.6,451.5 Q554.1,448.0 559.1,448.0 L635.9,448.0 Q640.9,448.0 644.4,451.5 L673.3,480.5 Q676.9,484.0 681.9,484.0 L775.1,484.0 Q780.1,484.0 783.7,480.5 L812.6,451.5 Q816.1,448.0 821.1,448.0 L897.9,448.0 Q902.9,448.0 906.4,451.5 L935.3,480.5 Q938.9,484.0 943.9,484.0 L1038.0,484.0"/><path d="M-105.0,494.0 L-6.7,494.0 Q-1.7,494.0 1.8,490.5 L30.7,461.5 Q34.3,458.0 39.3,458.0 L107.7,458.0 Q112.7,458.0 116.3,461.5 L145.2,490.5 Q148.7,494.0 153.7,494.0 L255.3,494.0 Q260.3,494.0 263.8,490.5 L292.7,461.5 Q296.3,458.0 301.3,458.0 L369.7,458.0 Q374.7,458.0 378.3,461.5 L407.2,490.5 Q410.7,494.0 415.7,494.0 L517.3,494.0 Q522.3,494.0 525.8,490.5 L554.7,461.5 Q558.3,458.0 563.3,458.0 L631.7,458.0 Q636.7,458.0 640.3,461.5 L669.2,490.5 Q672.7,494.0 677.7,494.0 L779.3,494.0 Q784.3,494.0 787.8,490.5 L816.7,461.5 Q820.3,458.0 825.3,458.0 L893.7,458.0 Q898.7,458.0 902.3,461.5 L931.2,490.5 Q934.7,494.0 939.7,494.0 L1038.0,494.0"/><path d="M-105.0,504.0 L-2.6,504.0 Q2.4,504.0 6.0,500.5 L34.9,471.5 Q38.4,468.0 43.4,468.0 L103.6,468.0 Q108.6,468.0 112.1,471.5 L141.0,500.5 Q144.6,504.0 149.6,504.0 L259.4,504.0 Q264.4,504.0 268.0,500.5 L296.9,471.5 Q300.4,468.0 305.4,468.0 L365.6,468.0 Q370.6,468.0 374.1,471.5 L403.0,500.5 Q406.6,504.0 411.6,504.0 L521.4,504.0 Q526.4,504.0 530.0,500.5 L558.9,471.5 Q562.4,468.0 567.4,468.0 L627.6,468.0 Q632.6,468.0 636.1,471.5 L665.0,500.5 Q668.6,504.0 673.6,504.0 L783.4,504.0 Q788.4,504.0 792.0,500.5 L820.9,471.5 Q824.4,468.0 829.4,468.0 L889.6,468.0 Q894.6,468.0 898.1,471.5 L927.0,500.5 Q930.6,504.0 935.6,504.0 L1038.0,504.0"/><path d="M-150.0,516.0 L-72.4,516.0 Q-67.4,516.0 -63.9,512.5 L-35.0,483.5 Q-31.4,480.0 -26.4,480.0 L83.4,480.0 Q88.4,480.0 92.0,483.5 L120.9,512.5 Q124.4,516.0 129.4,516.0 L189.6,516.0 Q194.6,516.0 198.1,512.5 L227.0,483.5 Q230.6,480.0 235.6,480.0 L345.4,480.0 Q350.4,480.0 354.0,483.5 L382.9,512.5 Q386.4,516.0 391.4,516.0 L451.6,516.0 Q456.6,516.0 460.1,512.5 L489.0,483.5 Q492.6,480.0 497.6,480.0 L607.4,480.0 Q612.4,480.0 616.0,483.5 L644.9,512.5 Q648.4,516.0 653.4,516.0 L713.6,516.0 Q718.6,516.0 722.1,512.5 L751.0,483.5 Q754.6,480.0 759.6,480.0 L869.4,480.0 Q874.4,480.0 878.0,483.5 L906.9,512.5 Q910.4,516.0 915.4,516.0 L993.0,516.0"/><path d="M-150.0,526.0 L-68.3,526.0 Q-63.3,526.0 -59.7,522.5 L-30.8,493.5 Q-27.3,490.0 -22.3,490.0 L79.3,490.0 Q84.3,490.0 87.8,493.5 L116.7,522.5 Q120.3,526.0 125.3,526.0 L193.7,526.0 Q198.7,526.0 202.3,522.5 L231.2,493.5 Q234.7,490.0 239.7,490.0 L341.3,490.0 Q346.3,490.0 349.8,493.5 L378.7,522.5 Q382.3,526.0 387.3,526.0 L455.7,526.0 Q460.7,526.0 464.3,522.5 L493.2,493.5 Q496.7,490.0 501.7,490.0 L603.3,490.0 Q608.3,490.0 611.8,493.5 L640.7,522.5 Q644.3,526.0 649.3,526.0 L717.7,526.0 Q722.7,526.0 726.3,522.5 L755.2,493.5 Q758.7,490.0 763.7,490.0 L865.3,490.0 Q870.3,490.0 873.8,493.5 L902.7,522.5 Q906.3,526.0 911.3,526.0 L993.0,526.0"/><path d="M-150.0,536.0 L-64.1,536.0 Q-59.1,536.0 -55.6,532.5 L-26.7,503.5 Q-23.1,500.0 -18.1,500.0 L75.1,500.0 Q80.1,500.0 83.7,503.5 L112.6,532.5 Q116.1,536.0 121.1,536.0 L197.9,536.0 Q202.9,536.0 206.4,532.5 L235.3,503.5 Q238.9,500.0 243.9,500.0 L337.1,500.0 Q342.1,500.0 345.7,503.5 L374.6,532.5 Q378.1,536.0 383.1,536.0 L459.9,536.0 Q464.9,536.0 468.4,532.5 L497.3,503.5 Q500.9,500.0 505.9,500.0 L599.1,500.0 Q604.1,500.0 607.7,503.5 L636.6,532.5 Q640.1,536.0 645.1,536.0 L721.9,536.0 Q726.9,536.0 730.4,532.5 L759.3,503.5 Q762.9,500.0 767.9,500.0 L861.1,500.0 Q866.1,500.0 869.7,503.5 L898.6,532.5 Q902.1,536.0 907.1,536.0 L993.0,536.0"/><path d="M-150.0,546.0 L-60.0,546.0 Q-55.0,546.0 -51.5,542.5 L-22.5,513.5 Q-19.0,510.0 -14.0,510.0 L71.0,510.0 Q76.0,510.0 79.5,513.5 L108.5,542.5 Q112.0,546.0 117.0,546.0 L202.0,546.0 Q207.0,546.0 210.5,542.5 L239.5,513.5 Q243.0,510.0 248.0,510.0 L333.0,510.0 Q338.0,510.0 341.5,513.5 L370.5,542.5 Q374.0,546.0 379.0,546.0 L464.0,546.0 Q469.0,546.0 472.5,542.5 L501.5,513.5 Q505.0,510.0 510.0,510.0 L595.0,510.0 Q600.0,510.0 603.5,513.5 L632.5,542.5 Q636.0,546.0 641.0,546.0 L726.0,546.0 Q731.0,546.0 734.5,542.5 L763.5,513.5 Q767.0,510.0 772.0,510.0 L857.0,510.0 Q862.0,510.0 865.5,513.5 L894.5,542.5 Q898.0,546.0 903.0,546.0 L993.0,546.0"/><path d="M-150.0,556.0 L-55.9,556.0 Q-50.9,556.0 -47.3,552.5 L-18.4,523.5 Q-14.9,520.0 -9.9,520.0 L66.9,520.0 Q71.9,520.0 75.4,523.5 L104.3,552.5 Q107.9,556.0 112.9,556.0 L206.1,556.0 Q211.1,556.0 214.7,552.5 L243.6,523.5 Q247.1,520.0 252.1,520.0 L328.9,520.0 Q333.9,520.0 337.4,523.5 L366.3,552.5 Q369.9,556.0 374.9,556.0 L468.1,556.0 Q473.1,556.0 476.7,552.5 L505.6,523.5 Q509.1,520.0 514.1,520.0 L590.9,520.0 Q595.9,520.0 599.4,523.5 L628.3,552.5 Q631.9,556.0 636.9,556.0 L730.1,556.0 Q735.1,556.0 738.7,552.5 L767.6,523.5 Q771.1,520.0 776.1,520.0 L852.9,520.0 Q857.9,520.0 861.4,523.5 L890.3,552.5 Q893.9,556.0 898.9,556.0 L993.0,556.0"/><path d="M-150.0,566.0 L-51.7,566.0 Q-46.7,566.0 -43.2,562.5 L-14.3,533.5 Q-10.7,530.0 -5.7,530.0 L62.7,530.0 Q67.7,530.0 71.3,533.5 L100.2,562.5 Q103.7,566.0 108.7,566.0 L210.3,566.0 Q215.3,566.0 218.8,562.5 L247.7,533.5 Q251.3,530.0 256.3,530.0 L324.7,530.0 Q329.7,530.0 333.3,533.5 L362.2,562.5 Q365.7,566.0 370.7,566.0 L472.3,566.0 Q477.3,566.0 480.8,562.5 L509.7,533.5 Q513.3,530.0 518.3,530.0 L586.7,530.0 Q591.7,530.0 595.3,533.5 L624.2,562.5 Q627.7,566.0 632.7,566.0 L734.3,566.0 Q739.3,566.0 742.8,562.5 L771.7,533.5 Q775.3,530.0 780.3,530.0 L848.7,530.0 Q853.7,530.0 857.3,533.5 L886.2,562.5 Q889.7,566.0 894.7,566.0 L993.0,566.0"/><path d="M-150.0,576.0 L-47.6,576.0 Q-42.6,576.0 -39.0,572.5 L-10.1,543.5 Q-6.6,540.0 -1.6,540.0 L58.6,540.0 Q63.6,540.0 67.1,543.5 L96.0,572.5 Q99.6,576.0 104.6,576.0 L214.4,576.0 Q219.4,576.0 223.0,572.5 L251.9,543.5 Q255.4,540.0 260.4,540.0 L320.6,540.0 Q325.6,540.0 329.1,543.5 L358.0,572.5 Q361.6,576.0 366.6,576.0 L476.4,576.0 Q481.4,576.0 485.0,572.5 L513.9,543.5 Q517.4,540.0 522.4,540.0 L582.6,540.0 Q587.6,540.0 591.1,543.5 L620.0,572.5 Q623.6,576.0 628.6,576.0 L738.4,576.0 Q743.4,576.0 747.0,572.5 L775.9,543.5 Q779.4,540.0 784.4,540.0 L844.6,540.0 Q849.6,540.0 853.1,543.5 L882.0,572.5 Q885.6,576.0 890.6,576.0 L993.0,576.0"/></g></svg></div>
<div class="border"></div>
<div class="ln" style="left:210.5px;top:282px;width:602.4px;height:5.40px"></div>
<div class="ln" style="left:210.5px;top:309.8px;width:602.4px;height:7.90px"></div>
<div class="ln" style="left:210.5px;top:357.2px;width:602.4px;height:5.50px"></div>
<div class="ln" style="left:210.5px;top:386.1px;width:602.4px;height:1.80px"></div>
<div class="ln" style="left:210.5px;top:413.1px;width:602.4px;height:1.80px"></div>
<div class="ln" style="left:210.5px;top:440.0px;width:602.4px;height:1.80px"></div>
<div class="ln" style="left:210.5px;top:467.0px;width:602.4px;height:1.80px"></div>
<div class="ln" style="left:210.5px;top:493.8px;width:602.4px;height:1.80px"></div>
<div class="ln" style="left:210.5px;top:517.7px;width:602.4px;height:1.80px"></div>
<div class="ln" style="left:210.5px;top:542.6px;width:602.4px;height:1.80px"></div>
<div class="ln" style="left:210.5px;top:586.3000000000001px;width:602.4px;height:1.80px"></div>
<div class="ln" style="left:210.5px;top:613.4px;width:602.4px;height:1.80px"></div>
<div class="ln" style="left:210.5px;top:640.3000000000001px;width:602.4px;height:1.80px"></div>
<div class="ln" style="left:210.5px;top:667.3000000000001px;width:602.4px;height:1.80px"></div>
<div class="ln" style="left:210.5px;top:694.4px;width:602.4px;height:1.80px"></div>
<div class="ln" style="left:210.5px;top:718.2px;width:602.4px;height:8.80px"></div>
<span class="t h" style="left:356.99px;top:235.89px;font-size:34.738px;letter-spacing:-0.3px;font-weight:bold;transform:scaleX(1.0030)">NUTRITION FACTS</span>
<span class="t b" style="left:247.10px;top:290.89px;font-size:14.898px;letter-spacing:0px;font-weight:bold;transform:scaleX(0.9794)">Serving Size: 1 Scoop (4g)</span>
<span class="t b" style="left:578.70px;top:290.89px;font-size:14.898px;letter-spacing:0px;font-weight:bold;transform:scaleX(0.9879)">Servings Per Jar: 30 Servings</span>
<span class="t b" style="left:219.70px;top:323.68px;font-size:14.317px;letter-spacing:0px;font-weight:bold;transform:scaleX(1.1002)">Nutritional Information</span>
<span class="t b" style="left:270.80px;top:337.48px;font-size:14.317px;letter-spacing:0px;font-weight:bold;transform:scaleX(1.0396)">(Approx.)</span>
<span class="t b" style="left:502.50px;top:321.80px;font-size:14.172px;letter-spacing:0px;font-weight:bold;transform:scaleX(0.9007)">Per</span>
<span class="t b" style="left:504.60px;top:337.30px;font-size:14.172px;letter-spacing:0px;font-weight:bold;transform:scaleX(1.0584)">4g</span>
<span class="t b" style="left:584.30px;top:321.80px;font-size:14.172px;letter-spacing:0px;font-weight:bold;transform:scaleX(0.9179)">Per</span>
<span class="t b" style="left:579.60px;top:337.30px;font-size:14.172px;letter-spacing:0px;font-weight:bold;transform:scaleX(0.9741)">100g</span>
<span class="t b" style="left:655.65px;top:332.00px;font-size:14.172px;letter-spacing:0px;font-weight:bold;transform:scaleX(0.9601)">Units</span>
<span class="t b" style="left:754.60px;top:321.80px;font-size:14.172px;letter-spacing:0px;font-weight:bold;transform:scaleX(0.9414)">*%RDA</span>
<span class="t b" style="left:728.20px;top:338.30px;font-size:14.172px;letter-spacing:0px;font-weight:bold;transform:scaleX(0.9528)">(Per Serve)</span>
<span class="t b" style="left:237.40px;top:367.56px;font-size:14.462px;letter-spacing:0px;font-weight:bold;transform:scaleX(1.0173)">Energy^</span>
<span class="t n" style="left:504.23px;top:368.28px;font-size:14.317px;letter-spacing:0px;font-weight:normal;transform:scaleX(1.0347)">13</span>
<span class="t n" style="left:582.63px;top:368.28px;font-size:14.317px;letter-spacing:0px;font-weight:normal;transform:scaleX(1.0347)">331</span>
<span class="t n" style="left:658.19px;top:368.28px;font-size:14.317px;letter-spacing:0px;font-weight:normal;transform:scaleX(1.0347)">Kcal</span>
<span class="t n" style="left:761.16px;top:368.28px;font-size:14.317px;letter-spacing:0px;font-weight:normal;transform:scaleX(1.0347)">0.65</span>
<span class="t b" style="left:237.40px;top:393.76px;font-size:14.462px;letter-spacing:0px;font-weight:bold;transform:scaleX(1.0968)">Protein</span>
<span class="t n" style="left:498.58px;top:394.48px;font-size:14.317px;letter-spacing:0px;font-weight:normal;transform:scaleX(1.0347)">2.25</span>
<span class="t n" style="left:586.75px;top:394.48px;font-size:14.317px;letter-spacing:0px;font-weight:normal;transform:scaleX(1.0347)">56</span>
<span class="t n" style="left:668.86px;top:394.48px;font-size:14.317px;letter-spacing:0px;font-weight:normal;transform:scaleX(1.0347)">g</span>
<span class="t n" style="left:761.16px;top:394.48px;font-size:14.317px;letter-spacing:0px;font-weight:normal;transform:scaleX(1.0347)">4.17</span>
<span class="t b" style="left:237.40px;top:420.06px;font-size:14.462px;letter-spacing:0px;font-weight:bold;transform:scaleX(1.0795)">Carbohydrate</span>
<span class="t n" style="left:498.58px;top:420.78px;font-size:14.317px;letter-spacing:0px;font-weight:normal;transform:scaleX(1.0347)">0.88</span>
<span class="t n" style="left:586.75px;top:420.78px;font-size:14.317px;letter-spacing:0px;font-weight:normal;transform:scaleX(1.0347)">22</span>
<span class="t n" style="left:668.86px;top:420.78px;font-size:14.317px;letter-spacing:0px;font-weight:normal;transform:scaleX(1.0347)">g</span>
<span class="t n" style="left:779.40px;top:420.78px;font-size:14.317px;letter-spacing:0px;font-weight:normal;transform:scaleX(1.3250)">#</span>
<span class="t b" style="left:254.20px;top:446.06px;font-size:14.462px;letter-spacing:0px;font-weight:bold;transform:scaleX(1.0552)">Total Sugars</span>
<span class="t n" style="left:508.86px;top:446.78px;font-size:14.317px;letter-spacing:0px;font-weight:normal;transform:scaleX(1.0347)">0</span>
<span class="t n" style="left:590.86px;top:446.78px;font-size:14.317px;letter-spacing:0px;font-weight:normal;transform:scaleX(1.0347)">0</span>
<span class="t n" style="left:668.86px;top:446.78px;font-size:14.317px;letter-spacing:0px;font-weight:normal;transform:scaleX(1.0347)">g</span>
<span class="t n" style="left:779.40px;top:446.78px;font-size:14.317px;letter-spacing:0px;font-weight:normal;transform:scaleX(1.3250)">#</span>
<span class="t b" style="left:254.20px;top:472.06px;font-size:14.462px;letter-spacing:0px;font-weight:bold;transform:scaleX(1.0313)">Added Sugars</span>
<span class="t n" style="left:508.86px;top:472.78px;font-size:14.317px;letter-spacing:0px;font-weight:normal;transform:scaleX(1.0347)">0</span>
<span class="t n" style="left:590.86px;top:472.78px;font-size:14.317px;letter-spacing:0px;font-weight:normal;transform:scaleX(1.0347)">0</span>
<span class="t n" style="left:668.86px;top:472.78px;font-size:14.317px;letter-spacing:0px;font-weight:normal;transform:scaleX(1.0347)">g</span>
<span class="t n" style="left:781.72px;top:472.78px;font-size:14.317px;letter-spacing:0px;font-weight:normal;transform:scaleX(1.0347)">0</span>
<span class="t b" style="left:237.40px;top:498.36px;font-size:14.462px;letter-spacing:0px;font-weight:bold;transform:scaleX(1.0871)">Total Fat</span>
<span class="t n" style="left:498.58px;top:499.08px;font-size:14.317px;letter-spacing:0px;font-weight:normal;transform:scaleX(1.0347)">0.08</span>
<span class="t n" style="left:580.58px;top:499.08px;font-size:14.317px;letter-spacing:0px;font-weight:normal;transform:scaleX(1.0347)">2.00</span>
<span class="t n" style="left:668.86px;top:499.08px;font-size:14.317px;letter-spacing:0px;font-weight:normal;transform:scaleX(1.0347)">g</span>
<span class="t n" style="left:761.16px;top:499.08px;font-size:14.317px;letter-spacing:0px;font-weight:normal;transform:scaleX(1.0347)">0.12</span>
<span class="t b" style="left:237.40px;top:524.46px;font-size:14.462px;letter-spacing:0px;font-weight:bold;transform:scaleX(1.0491)">Sodium</span>
<span class="t n" style="left:494.47px;top:525.18px;font-size:14.317px;letter-spacing:0px;font-weight:normal;transform:scaleX(1.0347)">42.19</span>
<span class="t n" style="left:567.72px;top:525.18px;font-size:14.317px;letter-spacing:0px;font-weight:normal;transform:scaleX(1.0347)">1054.75</span>
<span class="t n" style="left:662.70px;top:525.18px;font-size:14.317px;letter-spacing:0px;font-weight:normal;transform:scaleX(1.0347)">mg</span>
<span class="t n" style="left:762.26px;top:525.18px;font-size:14.317px;letter-spacing:0px;font-weight:normal;transform:scaleX(1.0347)">2.11</span>
<span class="t b" style="left:237.40px;top:550.86px;font-size:14.462px;letter-spacing:0px;font-weight:bold;transform:scaleX(1.0976)">Hydrolyzed Marine</span>
<span class="t b" style="left:237.40px;top:568.06px;font-size:14.462px;letter-spacing:0px;font-weight:bold;transform:scaleX(1.0683)">Collagen Peptides</span>
<span class="t n" style="left:502.69px;top:559.98px;font-size:14.317px;letter-spacing:0px;font-weight:normal;transform:scaleX(1.0347)">2.5</span>
<span class="t n" style="left:580.58px;top:559.98px;font-size:14.317px;letter-spacing:0px;font-weight:normal;transform:scaleX(1.0347)">62.5</span>
<span class="t n" style="left:668.86px;top:559.98px;font-size:14.317px;letter-spacing:0px;font-weight:normal;transform:scaleX(1.0347)">g</span>
<span class="t n" style="left:779.40px;top:559.98px;font-size:14.317px;letter-spacing:0px;font-weight:normal;transform:scaleX(1.3250)">#</span>
<span class="t b" style="left:237.40px;top:594.66px;font-size:14.462px;letter-spacing:0px;font-weight:bold;transform:scaleX(1.0559)">Hyaluronic Acid</span>
<span class="t n" style="left:504.75px;top:595.38px;font-size:14.317px;letter-spacing:0px;font-weight:normal;transform:scaleX(1.0347)">30</span>
<span class="t n" style="left:582.63px;top:595.38px;font-size:14.317px;letter-spacing:0px;font-weight:normal;transform:scaleX(1.0347)">750</span>
<span class="t n" style="left:662.70px;top:595.38px;font-size:14.317px;letter-spacing:0px;font-weight:normal;transform:scaleX(1.0347)">mg</span>
<span class="t n" style="left:779.40px;top:595.38px;font-size:14.317px;letter-spacing:0px;font-weight:normal;transform:scaleX(1.3250)">#</span>
<span class="t b" style="left:237.40px;top:620.96px;font-size:14.462px;letter-spacing:0px;font-weight:bold;transform:scaleX(1.0410)">Vitamin C</span>
<span class="t n" style="left:504.75px;top:621.68px;font-size:14.317px;letter-spacing:0px;font-weight:normal;transform:scaleX(1.0347)">30</span>
<span class="t n" style="left:582.63px;top:621.68px;font-size:14.317px;letter-spacing:0px;font-weight:normal;transform:scaleX(1.0347)">750</span>
<span class="t n" style="left:662.70px;top:621.68px;font-size:14.317px;letter-spacing:0px;font-weight:normal;transform:scaleX(1.0347)">mg</span>
<span class="t n" style="left:779.40px;top:621.68px;font-size:14.317px;letter-spacing:0px;font-weight:normal;transform:scaleX(1.3250)">#</span>
<span class="t b" style="left:237.40px;top:647.06px;font-size:14.462px;letter-spacing:0px;font-weight:bold;transform:scaleX(1.0928)">Glutathione</span>
<span class="t n" style="left:504.75px;top:647.78px;font-size:14.317px;letter-spacing:0px;font-weight:normal;transform:scaleX(1.0347)">25</span>
<span class="t n" style="left:582.63px;top:647.78px;font-size:14.317px;letter-spacing:0px;font-weight:normal;transform:scaleX(1.0347)">625</span>
<span class="t n" style="left:662.70px;top:647.78px;font-size:14.317px;letter-spacing:0px;font-weight:normal;transform:scaleX(1.0347)">mg</span>
<span class="t n" style="left:779.40px;top:647.78px;font-size:14.317px;letter-spacing:0px;font-weight:normal;transform:scaleX(1.3250)">#</span>
<span class="t b" style="left:237.40px;top:673.36px;font-size:14.462px;letter-spacing:0px;font-weight:bold;transform:scaleX(1.0522)">Vitamin E</span>
<span class="t n" style="left:508.86px;top:674.08px;font-size:14.317px;letter-spacing:0px;font-weight:normal;transform:scaleX(1.0347)">5</span>
<span class="t n" style="left:582.12px;top:674.08px;font-size:14.317px;letter-spacing:0px;font-weight:normal;transform:scaleX(1.0347)">125</span>
<span class="t n" style="left:662.70px;top:674.08px;font-size:14.317px;letter-spacing:0px;font-weight:normal;transform:scaleX(1.0347)">mg</span>
<span class="t n" style="left:779.40px;top:674.08px;font-size:14.317px;letter-spacing:0px;font-weight:normal;transform:scaleX(1.3250)">#</span>
<span class="t b" style="left:237.40px;top:699.36px;font-size:14.462px;letter-spacing:0px;font-weight:bold;transform:scaleX(1.0920)">Biotin</span>
<span class="t n" style="left:504.75px;top:700.08px;font-size:14.317px;letter-spacing:0px;font-weight:normal;transform:scaleX(1.0347)">20</span>
<span class="t n" style="left:582.63px;top:700.08px;font-size:14.317px;letter-spacing:0px;font-weight:normal;transform:scaleX(1.0347)">500</span>
<span class="t n" style="left:659.00px;top:700.08px;font-size:14.317px;letter-spacing:0px;font-weight:normal;transform:scaleX(1.0347)">mcg</span>
<span class="t n" style="left:779.40px;top:700.08px;font-size:14.317px;letter-spacing:0px;font-weight:normal;transform:scaleX(1.3250)">#</span>
<span class="t f" style="left:214.40px;top:736.17px;font-size:14.099px;letter-spacing:0px;font-weight:normal;transform:scaleX(1.1014)">*% RDA expressed as per ICMR 2020, Sedentary Work Men</span>
<span class="t f" style="left:214.40px;top:752.87px;font-size:14.099px;letter-spacing:0px;font-weight:normal;transform:scaleX(1.1252)">^%RDA expressed on the basis of 2000kcal Energy required for an average adult</span>
<span class="t f" style="left:214.40px;top:769.67px;font-size:14.099px;letter-spacing:0px;font-weight:normal;transform:scaleX(1.1241)"># % RDA not established</span>
</body></html>
